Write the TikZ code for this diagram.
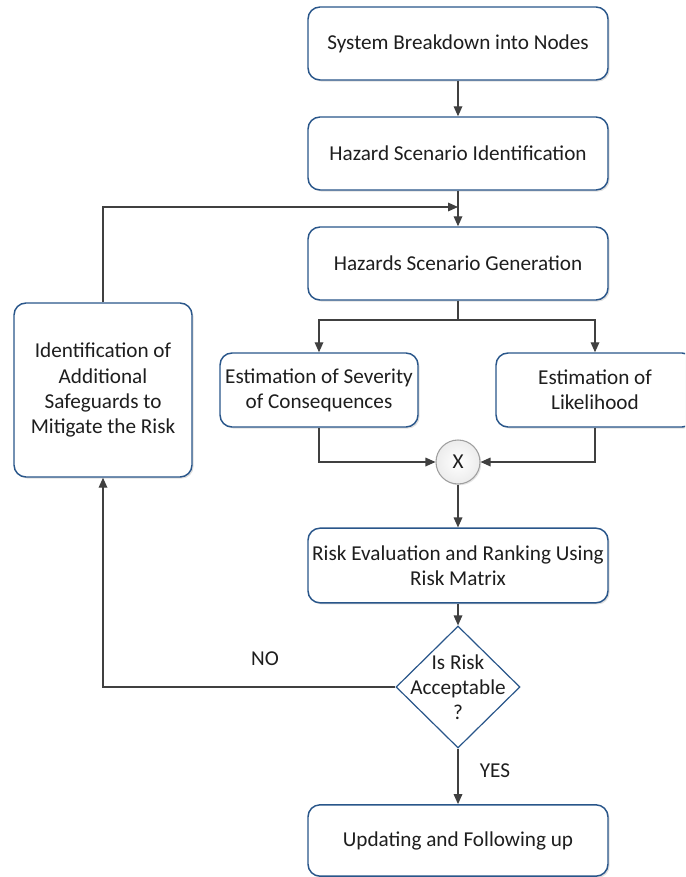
\documentclass[tikz,border=0pt]{standalone}
\usepackage{fontspec}
\setmainfont{Carlito}
\usetikzlibrary{shapes.geometric,arrows.meta,shadows}
\definecolor{boxblue}{RGB}{41,86,138}
\definecolor{linegray}{RGB}{64,64,64}
\definecolor{txt}{RGB}{30,30,30}
\begin{document}
\begin{tikzpicture}[x=0.75pt,y=-0.75pt,
  every node/.style={font=\fontsize{15.9}{18.8}\selectfont, text=txt},
  procbox/.style={draw=boxblue, line width=1.1pt, fill=white, rounded corners=9pt,
    align=center, inner sep=2pt,
    drop shadow={shadow xshift=1.2pt, shadow yshift=-1.2pt, opacity=0.25, fill=gray}},
  wide/.style={minimum width=225pt, minimum height=54.75pt},
  arr/.style={draw=linegray, line width=0.9pt, -{Triangle[length=7.5pt,width=6.5pt]}},
  ln/.style={draw=linegray, line width=0.9pt}]
\useasboundingbox (0,0) rectangle (685,877);
\clip (0,0) rectangle (685,877);
\node[procbox, wide] (b1) at (458,43.5) {System Breakdown into Nodes};
\node[procbox, wide] (b2) at (458,153.5) {Hazard Scenario Identification};
\node[procbox, wide] (b3) at (458,263.5) {Hazards Scenario Generation};
\node[procbox, minimum width=148.5pt, minimum height=55.5pt] (sev) at (319,390) {Estimation of Severity\\of Consequences};
\node[procbox, minimum width=148.5pt, minimum height=55.5pt] (lik) at (595,390) {Estimation of\\Likelihood};
\node[procbox, minimum width=133.5pt, minimum height=130.5pt] (left) at (103,390) {Identification of\\Additional\\Safeguards to\\Mitigate the Risk};
\node[circle, draw=gray!75, line width=0.8pt, inner color=white, outer color=gray!15, minimum size=33pt, inner sep=0pt,
  drop shadow={shadow xshift=1pt, shadow yshift=-1pt, opacity=0.2, fill=gray}] (cx) at (458,462) {X};
\node[procbox, wide, minimum height=56pt] (risk) at (458,565.5) {Risk Evaluation and Ranking Using\\Risk Matrix};
\node[diamond, draw=boxblue, line width=0.9pt, fill=white, minimum width=93pt, minimum height=91.5pt, inner sep=0pt] (dec) at (458,687) {};
\node[align=center] (dect) at (458,687) {Is Risk\\Acceptable\\?};
\node[procbox, wide, minimum height=53.5pt] (upd) at (458,840.5) {Updating and Following up};
\node (no) at (265,659) {NO};
\node (yes) at (495,771) {YES};
\coordinate (join) at (458,207);
\coordinate (split) at (458,320);
\draw[arr] (b1) -- (b2);
\draw[arr] (b2) -- (b3);
\draw[arr] (left.north) |- (join);
\draw[ln] (b3.south) -- (split);
\draw[arr] (split) -| (sev.north);
\draw[arr] (split) -| (lik.north);
\draw[arr] (sev.south) |- (cx.west);
\draw[arr] (lik.south) |- (cx.east);
\draw[arr] (cx) -- (risk);
\draw[arr] (risk) -- (dec);
\draw[arr] (dec.west) -| (left.south);
\draw[arr] (dec) -- (upd);
\end{tikzpicture}
\end{document}
